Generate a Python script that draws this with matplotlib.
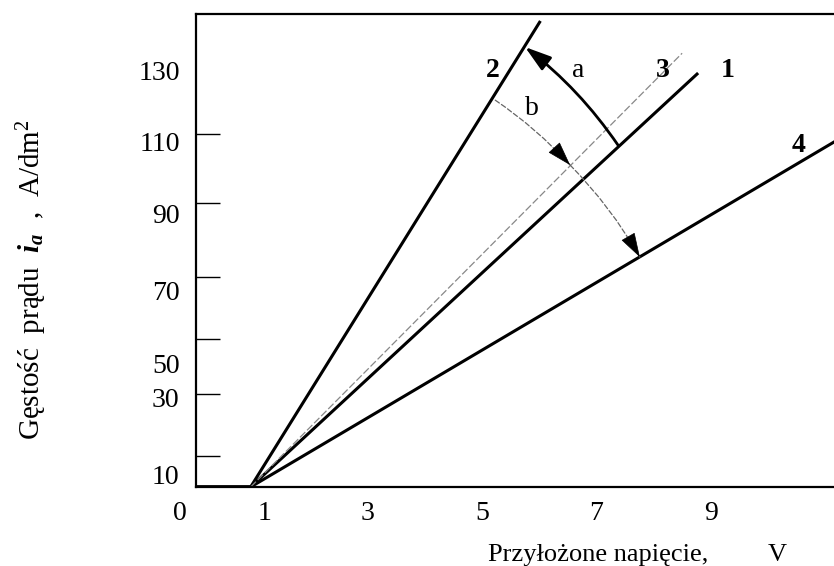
import numpy as np
import matplotlib.pyplot as plt

plt.rcParams['font.family'] = ['Liberation Serif', 'DejaVu Serif']
plt.rcParams['mathtext.fontset'] = 'custom'
plt.rcParams['mathtext.rm'] = 'Liberation Serif'
plt.rcParams['mathtext.it'] = 'Liberation Serif:italic'
plt.rcParams['mathtext.bf'] = 'Liberation Serif:bold'
plt.rcParams['mathtext.bfit'] = 'Liberation Serif:italic:bold'

# data (x: V, y: position on the drawn current axis)
base_y = 16.3
knee_x = 0.95
line1_x = [0, knee_x, 8.78]
line1_y = [base_y, base_y, 129.2]
line2_x = [0, knee_x, 6.02]
line2_y = [base_y, base_y, 143.4]
line3_x = [knee_x, 8.50]
line3_y = [base_y, 134.6]
line4_x = [0, knee_x, 11.3]
line4_y = [base_y, base_y, 111.7]

# curve labels
curve_names = ['1', '2', '3', '4']
curve_lab_x = [9.29, 5.19, 8.17, 10.53]
curve_lab_y = [130.0, 130.0, 130.0, 109.5]

# arrows a and b
arrow_a = [(7.38, 109.5), (5.75, 136.3)]
arrow_b = [(5.23, 121.8), (6.54, 104.1), (7.76, 79.0)]

# axis ticks
xtick_pos = [1.2, 3, 5, 7, 9]
xtick_lab = ['1', '3', '5', '7', '9']
xtick_marks = [3, 5, 7, 9]
ytick_pos = [19.6, 40.6, 50.1, 70, 91.0, 110.4, 130]
ytick_lab = ['10', '30', '50', '70', '90', '110', '130']
ytick_marks = [24.7, 41.6, 56.6, 73.5, 93.7, 112.5, 130]

fig = plt.figure(figsize=(8.34, 5.66), dpi=100)
ax = fig.add_axes([196.35 / 834, 79 / 566, 640 / 834, 473 / 566])
ax.set_xlim(0, 640 / 57.15)
ax.set_ylim(base_y, 145.3)

for s in ['left', 'bottom', 'top']:
    ax.spines[s].set_linewidth(1.6)
ax.spines['right'].set_visible(False)

ax.plot(line2_x, line2_y, color='black', lw=2.2, solid_capstyle='butt')
ax.plot(line1_x, line1_y, color='black', lw=2.2, solid_capstyle='butt')
ax.plot(line4_x, line4_y, color='black', lw=2.2, solid_capstyle='butt')
ax.plot(line3_x, line3_y, color='#888888', lw=0.9, ls=(0, (6, 2)))

for name, x, y in zip(curve_names, curve_lab_x, curve_lab_y):
    ax.text(x, y, name, fontsize=20, fontweight='bold', ha='center', va='center')

head = '-|>,head_length=1.6,head_width=0.5'
ax.annotate('', xy=arrow_a[1], xytext=arrow_a[0],
            arrowprops=dict(arrowstyle=head, color='black', lw=2.0,
                            shrinkA=0, shrinkB=0,
                            connectionstyle='arc3,rad=0.08'))
ax.text(6.68, 130, 'a', fontsize=20, ha='center', va='center')


def tail_point(p0, p1, rad, t=0.12):
    # a point just behind p1 along the arc3 tangent, so the head sits on the arc
    d0 = ax.transData.transform(p0)
    d1 = ax.transData.transform(p1)
    mid = (d0 + d1) / 2
    dx, dy = d1 - d0
    ctrl = mid + rad * np.array([dy, -dx])
    back = d1 + (ctrl - d1) * t
    return tuple(ax.transData.inverted().transform(back))


for p0, p1, r in [(arrow_b[0], arrow_b[1], -0.06), (arrow_b[1], arrow_b[2], -0.065)]:
    ax.annotate('', xy=p1, xytext=p0,
                arrowprops=dict(arrowstyle='-', color='#666666', lw=0.9,
                                ls=(0, (4, 2)), shrinkA=0, shrinkB=0,
                                connectionstyle='arc3,rad=%s' % r))
    ax.annotate('', xy=p1, xytext=tail_point(p0, p1, r),
                arrowprops=dict(arrowstyle=head, color='black', lw=0.5,
                                shrinkA=0, shrinkB=0))
ax.text(5.87, 119.6, 'b', fontsize=20, ha='center', va='center')

# tick labels and inward tick marks placed apart, as in the scan
ax.set_xticks(xtick_pos)
ax.set_xticklabels(xtick_lab)
ax.set_xticks(xtick_marks, minor=True)
ax.set_yticks(ytick_pos)
ax.set_yticklabels(ytick_lab)
ax.set_yticks(ytick_marks, minor=True)
ax.tick_params(which='major', length=0, labelsize=20, pad=10)
ax.tick_params(axis='y', which='major', pad=12)
ax.tick_params(which='minor', direction='in', length=17, width=1.0)
ax.text(-0.0255, -0.055, '0', transform=ax.transAxes, fontsize=20,
        ha='center', va='center')

fig.text(488 / 834, 1 - 555 / 566, 'Przyłożone napięcie,', fontsize=19,
         ha='left', va='center')
fig.text(777 / 834, 1 - 555 / 566, 'V', fontsize=19, ha='center', va='center')
fig.text(32 / 834, 1 - 280 / 566,
         r'Gęstość  prądu  $\mathbfit{i_a}$  ,  A/dm$^2$',
         fontsize=21, rotation=90, ha='center', va='center')

fig.savefig('out.png', dpi=100)
